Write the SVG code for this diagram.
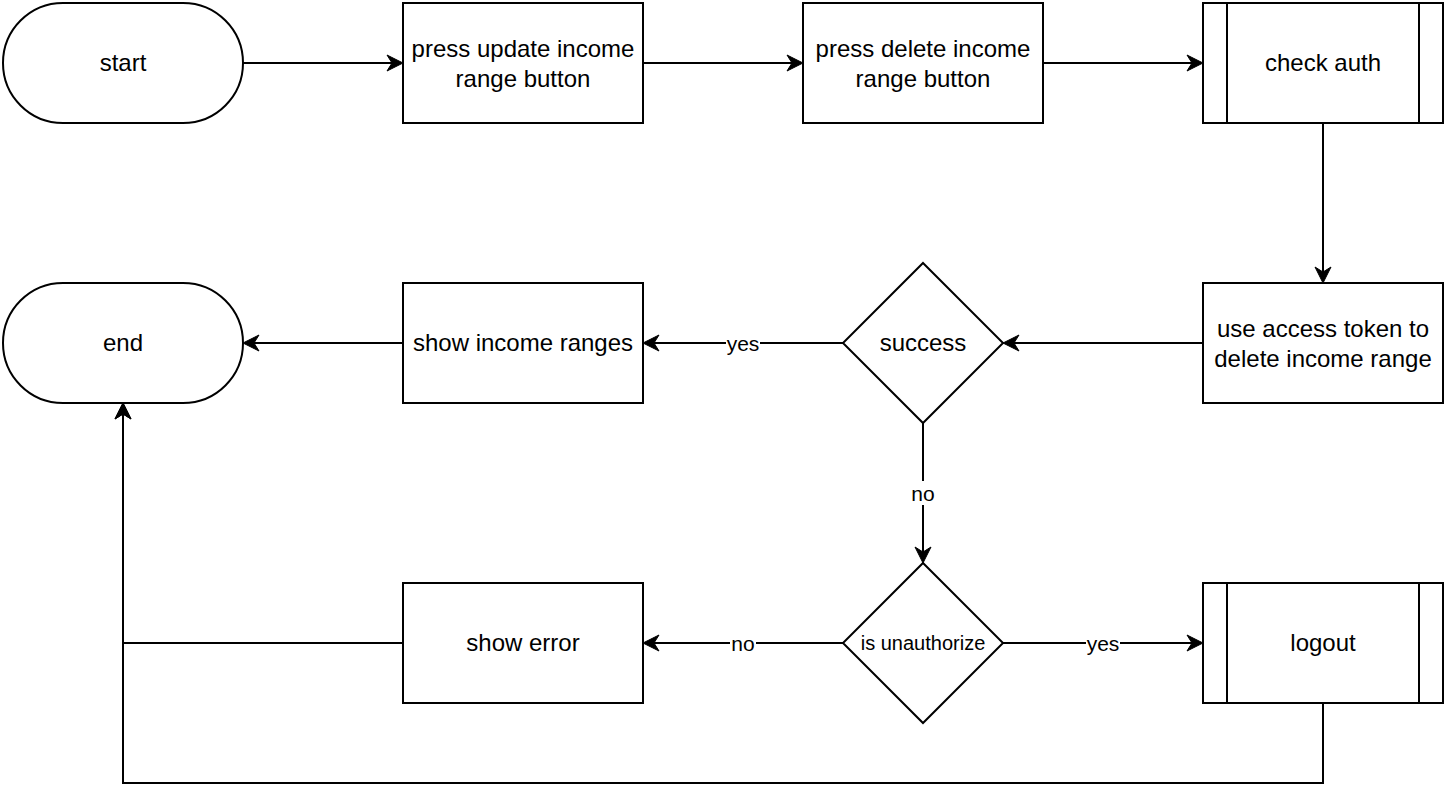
<svg xmlns="http://www.w3.org/2000/svg" width="1446" height="802" viewBox="0 0 1446 802">
<style>
.shape{fill:#fff;stroke:#000;stroke-width:2}
.conn{fill:none;stroke:#000;stroke-width:2}
.t{font-family:"Liberation Sans",Arial,sans-serif;font-size:24px;fill:#000;text-anchor:middle}
.s{font-family:"Liberation Sans",Arial,sans-serif;font-size:20px;fill:#000;text-anchor:middle}
.lbl{font-family:"Liberation Sans",Arial,sans-serif;font-size:21px;fill:#000;text-anchor:middle}
.lblbg{fill:#fff;stroke:none}
</style>
<defs>
<marker id="arr" markerUnits="userSpaceOnUse" viewBox="-8 -10 20 20" refX="0" refY="0" markerWidth="20" markerHeight="20" orient="auto">
<path d="M10,0 L-6,-8 L-1,0 L-6,8 Z" fill="#000" stroke="#000" stroke-width="1"/>
</marker>
</defs>
<rect width="1446" height="802" fill="#fff"/>
<g id="connectors">
<path class="conn" d="M243,63 H393" marker-end="url(#arr)"/>
<path class="conn" d="M643,63 H793" marker-end="url(#arr)"/>
<path class="conn" d="M1043,63 H1193" marker-end="url(#arr)"/>
<path class="conn" d="M1323,123 V273" marker-end="url(#arr)"/>
<path class="conn" d="M1203,343 H1013" marker-end="url(#arr)"/>
<path class="conn" d="M843,343 H653" marker-end="url(#arr)"/>
<path class="conn" d="M403,343 H253" marker-end="url(#arr)"/>
<path class="conn" d="M923,423 V553" marker-end="url(#arr)"/>
<path class="conn" d="M843,643 H653" marker-end="url(#arr)"/>
<path class="conn" d="M1003,643 H1193" marker-end="url(#arr)"/>
<path class="conn" d="M403,643 H123 V413" marker-end="url(#arr)"/>
<path class="conn" d="M1323,703 V783 H123 V413" marker-end="url(#arr)"/>
<rect class="lblbg" x="726" y="331" width="34" height="24"/>
<text class="lbl" x="743" y="350.5">yes</text>
<rect class="lblbg" x="910" y="481" width="26" height="24"/>
<text class="lbl" x="923" y="500.5">no</text>
<rect class="lblbg" x="730" y="631" width="26" height="24"/>
<text class="lbl" x="743" y="650.5">no</text>
<rect class="lblbg" x="1086" y="631" width="34" height="24"/>
<text class="lbl" x="1103" y="650.5">yes</text>
</g>
<g id="start">
<rect class="shape" x="3" y="3" width="240" height="120" rx="60" ry="60"/>
<text class="t" x="123" y="71">start</text>
</g>
<g id="press-update">
<rect class="shape" x="403" y="3" width="240" height="120"/>
<text class="t" x="523" y="57">press update income</text>
<text class="t" x="523" y="86.5">range button</text>
</g>
<g id="press-delete">
<rect class="shape" x="803" y="3" width="240" height="120"/>
<text class="t" x="923" y="57">press delete income</text>
<text class="t" x="923" y="86.5">range button</text>
</g>
<g id="check-auth">
<rect class="shape" x="1203" y="3" width="240" height="120"/>
<path class="conn" d="M1227,3 V123 M1419,3 V123"/>
<text class="t" x="1323" y="71">check auth</text>
</g>
<g id="use-token">
<rect class="shape" x="1203" y="283" width="240" height="120"/>
<text class="t" x="1323" y="337">use access token to</text>
<text class="t" x="1323" y="366.5">delete income range</text>
</g>
<g id="success">
<path class="shape" d="M923,263 L1003,343 L923,423 L843,343 Z"/>
<text class="t" x="923" y="351">success</text>
</g>
<g id="show-ranges">
<rect class="shape" x="403" y="283" width="240" height="120"/>
<text class="t" x="523" y="351">show income ranges</text>
</g>
<g id="end">
<rect class="shape" x="3" y="283" width="240" height="120" rx="60" ry="60"/>
<text class="t" x="123" y="351">end</text>
</g>
<g id="is-unauthorize">
<path class="shape" d="M923,563 L1003,643 L923,723 L843,643 Z"/>
<text class="s" x="923" y="650">is unauthorize</text>
</g>
<g id="show-error">
<rect class="shape" x="403" y="583" width="240" height="120"/>
<text class="t" x="523" y="651">show error</text>
</g>
<g id="logout">
<rect class="shape" x="1203" y="583" width="240" height="120"/>
<path class="conn" d="M1227,583 V703 M1419,583 V703"/>
<text class="t" x="1323" y="651">logout</text>
</g>
</svg>
